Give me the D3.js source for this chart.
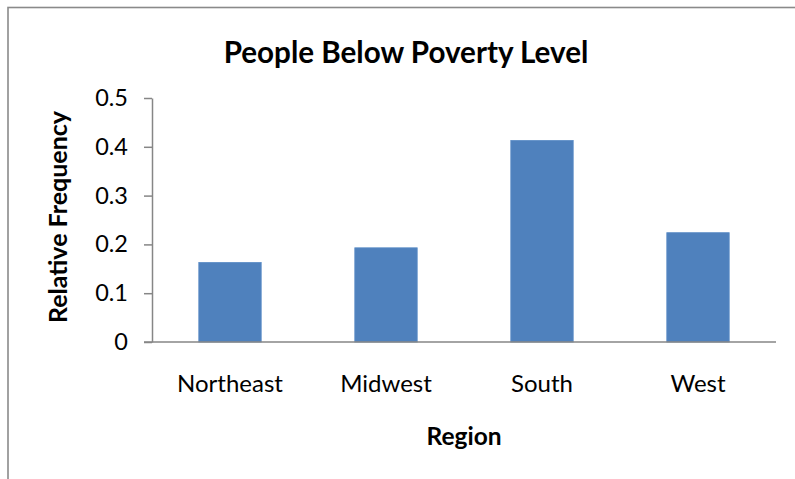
<!DOCTYPE html>
<html>
<head>
<meta charset="utf-8">
<script src="https://cdn.jsdelivr.net/npm/d3@7"></script>
<style>
  body { margin: 0; background: #fff; }
  svg { display: block; font-family: Lato, "Open Sans", sans-serif; }
  .tick line, .domain { stroke: #868686; }
</style>
</head>
<body>
<div id="chart"></div>
<script>

// data
var regions = ["Northeast", "Midwest", "South", "West"];
var relFreq = [0.163, 0.193, 0.413, 0.224];
var yTicks = [0, 0.1, 0.2, 0.3, 0.4, 0.5];

var W = 795, H = 479;
var margin = {top: 98, right: 19, bottom: 137, left: 152};
var width = W - margin.left - margin.right;
var height = H - margin.top - margin.bottom;

var svg = d3.select("#chart").append("svg")
  .attr("width", W)
  .attr("height", H);

// outer chart border (only top + left show in the crop)
svg.append("rect")
  .attr("x", 8)
  .attr("y", 7.5)
  .attr("width", W + 20)
  .attr("height", H + 20)
  .attr("fill", "none")
  .attr("stroke", "#8a8a8a")
  .attr("stroke-width", 1.6);

var g = svg.append("g")
  .attr("transform", "translate(" + margin.left + "," + margin.top + ")");

var x = d3.scaleBand()
  .domain(regions)
  .range([0, width])
  .paddingInner(0.6)
  .paddingOuter(0.3);

var y = d3.scaleLinear()
  .domain([0, 0.5])
  .range([height, 0]);

// y axis
var yAxis = g.append("g")
  .call(d3.axisLeft(y).tickValues(yTicks).tickSize(8).tickSizeOuter(0).tickPadding(16).tickFormat(d3.format("")));
yAxis.selectAll("text")
  .attr("font-size", 23.5)
  .attr("font-family", "Lato")
  .attr("fill", "#000");
yAxis.selectAll("line, path").attr("stroke-width", 1.5);

// bars
g.selectAll(".bar")
  .data(regions)
  .enter()
  .append("rect")
  .attr("class", "bar")
  .attr("x", d => x(d))
  .attr("width", x.bandwidth())
  .attr("y", (d, i) => y(relFreq[i]))
  .attr("height", (d, i) => height - y(relFreq[i]))
  .attr("fill", "#4f81bd")
  .attr("stroke", "#5b8cc6")
  .attr("stroke-width", 0.8);

// x axis line runs from the y tick stub to the right end
g.append("line")
  .attr("x1", -8)
  .attr("x2", width)
  .attr("y1", y(0))
  .attr("y2", y(0))
  .attr("stroke", "#868686")
  .attr("stroke-width", 1.5);

var xAxis = g.append("g")
  .attr("transform", "translate(0," + height + ")")
  .call(d3.axisBottom(x).tickSize(0));
xAxis.select(".domain").remove();
xAxis.selectAll("text")
  .attr("y", 50)
  .attr("dy", 0)
  .attr("font-size", 24)
  .attr("font-family", "Lato")
  .attr("fill", "#000");

// title
svg.append("text")
  .attr("x", 406)
  .attr("y", 63)
  .attr("text-anchor", "middle")
  .attr("font-size", 29.6)
  .attr("font-weight", "bold")
  .text("People Below Poverty Level");

// axis titles
svg.append("text")
  .attr("x", margin.left + width / 2)
  .attr("y", 445)
  .attr("text-anchor", "middle")
  .attr("font-size", 24.5)
  .attr("font-weight", "bold")
  .text("Region");

svg.append("text")
  .attr("transform", "translate(67," + (margin.top + height / 2 - 3) + ") rotate(-90)")
  .attr("text-anchor", "middle")
  .attr("font-size", 25)
  .attr("font-weight", "bold")
  .text("Relative Frequency");

</script>
</body>
</html>
